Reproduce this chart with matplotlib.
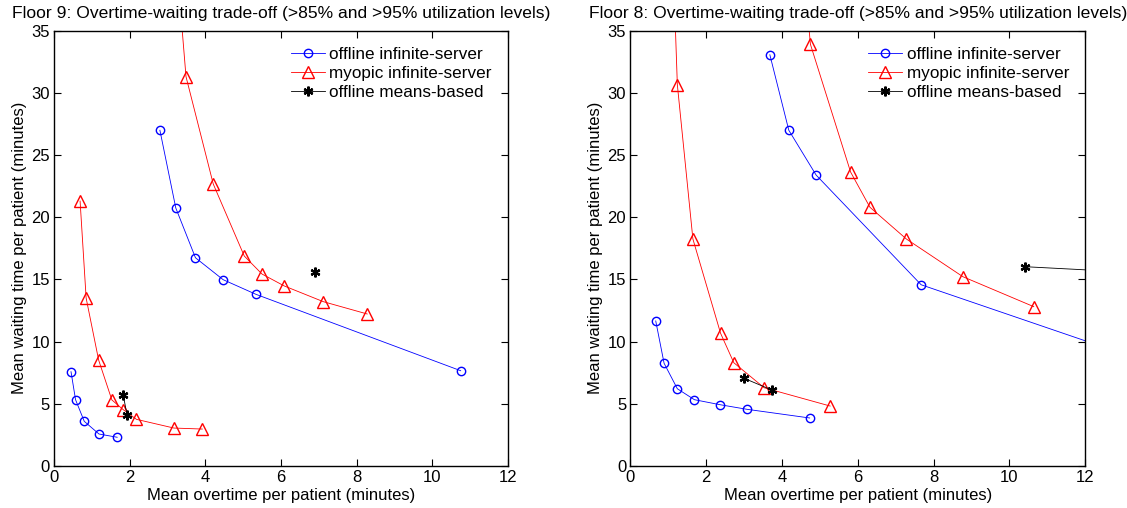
import matplotlib.pyplot as plt

plt.rcParams['font.family'] = ['Liberation Sans', 'DejaVu Sans']

# Floor 9 (left panel)
f9_off_lo_x = [0.45, 0.57, 0.80, 1.19, 1.67]
f9_off_lo_y = [7.58, 5.33, 3.59, 2.57, 2.31]
f9_off_hi_x = [2.80, 3.22, 3.74, 4.47, 5.34, 10.75]
f9_off_hi_y = [26.99, 20.74, 16.74, 14.98, 13.80, 7.66]
f9_myo_lo_x = [0.69, 0.85, 1.18, 1.53, 1.83, 2.18, 3.17, 3.92]
f9_myo_lo_y = [21.3, 13.5, 8.52, 5.31, 4.53, 3.75, 3.05, 2.97]
f9_myo_hi_x = [3.12, 3.49, 4.21, 5.03, 5.50, 6.09, 7.12, 8.28]
f9_myo_hi_y = [45.0, 31.3, 22.67, 16.88, 15.43, 14.47, 13.21, 12.22]
f9_mb_lo_x = [1.83, 1.93]
f9_mb_lo_y = [5.71, 4.12]
f9_mb_hi_x = [6.89]
f9_mb_hi_y = [15.62]

# Floor 8 (right panel)
f8_off_lo_x = [0.67, 0.89, 1.24, 1.69, 2.36, 3.07, 4.73]
f8_off_lo_y = [11.66, 8.26, 6.21, 5.33, 4.93, 4.56, 3.86]
f8_off_hi_x = [3.68, 4.18, 4.90, 7.67, 13.5]
f8_off_hi_y = [33.06, 26.99, 23.39, 14.57, 8.5]
f8_myo_lo_x = [1.10, 1.24, 1.65, 2.38, 2.73, 3.53, 5.27]
f8_myo_lo_y = [43.0, 30.65, 18.25, 10.67, 8.30, 6.29, 4.82]
f8_myo_hi_x = [4.60, 4.75, 5.81, 6.32, 7.28, 8.77, 10.64]
f8_myo_hi_y = [39.0, 33.9, 23.63, 20.80, 18.25, 15.22, 12.81]
f8_mb_lo_x = [3.00, 3.73]
f8_mb_lo_y = [7.05, 6.11]
f8_mb_hi_x = [10.42, 14.0]
f8_mb_hi_y = [16.02, 15.45]

xticks = [0, 2, 4, 6, 8, 10, 12]
yticks = [0, 5, 10, 15, 20, 25, 30, 35]

asterisk = (6, 2, 0)


def panel(ax, title, off, myo, mb):
    ax.plot(off[0][0], off[0][1], color='blue', lw=0.6, marker='o', ms=6,
            mfc='none', mew=1.0, label='offline infinite-server')
    ax.plot(off[1][0], off[1][1], color='blue', lw=0.6, marker='o', ms=6,
            mfc='none', mew=1.0)
    ax.plot(myo[0][0], myo[0][1], color='red', lw=0.6, marker='^', ms=8,
            mfc='none', mew=1.0, label='myopic infinite-server')
    ax.plot(myo[1][0], myo[1][1], color='red', lw=0.6, marker='^', ms=8,
            mfc='none', mew=1.0)
    ax.plot(mb[0][0], mb[0][1], color='black', lw=0.6, marker=asterisk,
            ms=7, mew=1.6, label='offline means-based')
    ax.plot(mb[1][0], mb[1][1], color='black', lw=0.6, marker=asterisk,
            ms=7, mew=1.6)
    ax.set_xlim(0, 12)
    ax.set_ylim(0, 35)
    ax.set_xticks(xticks)
    ax.set_yticks(yticks)
    ax.tick_params(direction='in', top=True, right=True, labelsize=12,
                   length=5, width=0.8, pad=3)
    for s in ax.spines.values():
        s.set_linewidth(1.0)
    ax.set_title(title, fontsize=12.6, pad=9)
    ax.set_xlabel('Mean overtime per patient (minutes)', fontsize=12,
                  labelpad=2)
    ax.set_ylabel('Mean waiting time per patient (minutes)', fontsize=12,
                  labelpad=3)
    ax.legend(loc='upper right', frameon=False, fontsize=12.3,
              handlelength=2.0, handletextpad=0.25, labelspacing=0.25,
              borderaxespad=0.55)


fig = plt.figure(figsize=(11.27, 5.08), dpi=100)
ax1 = fig.add_axes([0.0479, 0.0827, 0.4028, 0.857])
ax2 = fig.add_axes([0.5593, 0.0827, 0.4037, 0.857])

panel(ax1, 'Floor 9: Overtime-waiting trade-off (>85% and >95% utilization levels)',
      [(f9_off_lo_x, f9_off_lo_y), (f9_off_hi_x, f9_off_hi_y)],
      [(f9_myo_lo_x, f9_myo_lo_y), (f9_myo_hi_x, f9_myo_hi_y)],
      [(f9_mb_lo_x, f9_mb_lo_y), (f9_mb_hi_x, f9_mb_hi_y)])
panel(ax2, 'Floor 8: Overtime-waiting trade-off (>85% and >95% utilization levels)',
      [(f8_off_lo_x, f8_off_lo_y), (f8_off_hi_x, f8_off_hi_y)],
      [(f8_myo_lo_x, f8_myo_lo_y), (f8_myo_hi_x, f8_myo_hi_y)],
      [(f8_mb_lo_x, f8_mb_lo_y), (f8_mb_hi_x, f8_mb_hi_y)])

fig.savefig('out.png', dpi=100)
